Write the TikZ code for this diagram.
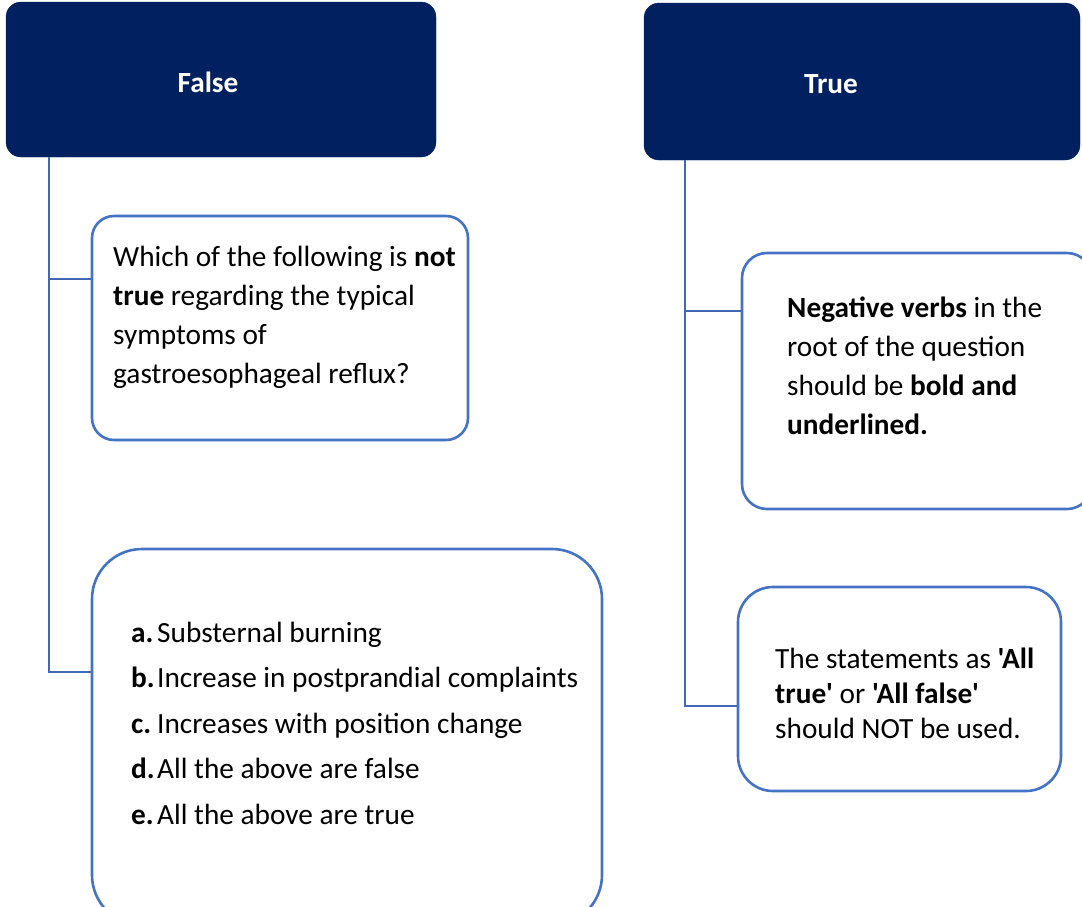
\documentclass[tikz,border=0pt]{standalone}
\usepackage{fontspec}
\setmainfont{Carlito}[Ligatures=TeXOff]
\definecolor{navy}{HTML}{002060}
\definecolor{bord}{HTML}{4472C4}
\definecolor{connc}{HTML}{4169B3}
\begin{document}
\begin{tikzpicture}[x=1pt,y=-1pt,
  hdr/.style={fill=navy,draw=navy,rounded corners=15pt,inner sep=0pt},
  card/.style={draw=bord,line width=2.6pt,fill=white,inner sep=0pt},
  conn/.style={draw=connc,line width=2pt},
  hdrtxt/.style={text=white,font=\fontsize{29.3}{35}\selectfont\bfseries,inner sep=0pt,anchor=base},
  body/.style={align=left,inner sep=0pt,anchor=base west}]
\useasboundingbox (0,0) rectangle (1082,906);
% headers
\node[hdr,minimum width=430pt,minimum height=155pt] (false) at (221,79.5) {};
\node[hdr,minimum width=436pt,minimum height=157pt] (true) at (862,81.5) {};
\node[hdrtxt] (falsetxt) at (208,92) {False};
\node[hdrtxt] (truetxt) at (831,93) {True};
% cards
\node[card,rounded corners=22pt,minimum width=376pt,minimum height=224pt] (q) at (280,328) {};
\node[card,rounded corners=50pt,minimum width=510pt,minimum height=376pt] (opts) at (347,737) {};
\node[card,rounded corners=25pt,minimum width=350pt,minimum height=256pt] (neg) at (917,381) {};
\node[card,rounded corners=35pt,minimum width=323pt,minimum height=204pt] (stm) at (899.5,689) {};
% connectors
\draw[conn] ([xshift=43pt]false.south west) |- ([yshift=65pt]opts.west);
\draw[conn] ([xshift=43pt]false.south west) |- ([yshift=49pt]q.west);
\draw[conn] ([xshift=41pt]true.south west) |- ([yshift=-17pt]stm.west);
\draw[conn] ([xshift=41pt]true.south west) |- ([yshift=70pt]neg.west);
% texts (anchor = baseline of last line)
\node[body,font=\fontsize{29.3}{38.7}\selectfont] (qtxt) at (113,383)
  {Which of the following is \textbf{not}\\ \textbf{true} regarding the typical\\ symptoms of\\ gastroesophageal reflux?};
\node[body,font=\fontsize{29.3}{45.5}\selectfont] (optstxt) at (131,824)
  {\makebox[26pt][l]{\textbf{a.}}Substernal burning\\
   \makebox[26pt][l]{\textbf{b.}}Increase in postprandial complaints\\
   \makebox[26pt][l]{\textbf{c.}}Increases with position change\\
   \makebox[26pt][l]{\textbf{d.}}All the above are false\\
   \makebox[26pt][l]{\textbf{e.}}All the above are true};
\node[body,font=\fontsize{29.3}{38.7}\selectfont] (negtxt) at (787,434)
  {\textbf{Negative verbs} in the\\ root of the question\\ should be \textbf{bold and}\\ \textbf{underlined.}};
\node[body,font=\fontsize{29.3}{35}\selectfont] (stmtxt) at (775,738)
  {The statements as \textbf{'All}\\ \textbf{true'} or \textbf{'All false'}\\ should NOT be used.};
\end{tikzpicture}
\end{document}
